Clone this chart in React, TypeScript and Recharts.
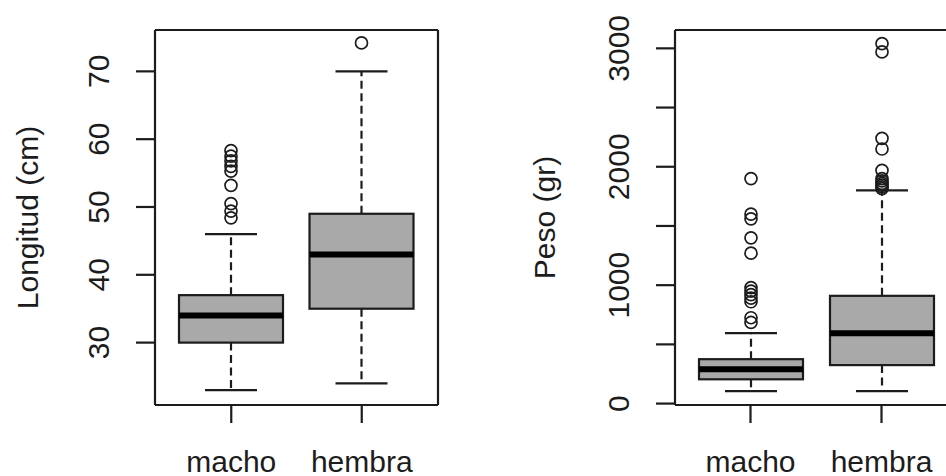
import React from 'react';
import { ComposedChart, Bar, XAxis, YAxis } from 'recharts';

const categories = ['macho', 'hembra'];

// Longitud (cm)
const longitudMin = [23, 24];
const longitudQ1 = [30, 35];
const longitudMedian = [34, 43];
const longitudQ3 = [37, 49];
const longitudMax = [46, 70];
const longitudOutliers = [
  [58.3, 57.5, 56.8, 56, 55.3, 53.2, 50.5, 49.4, 48.4],
  [74.2],
];
const longitudTicks = [30, 40, 50, 60, 70];

// Peso (gr)
const pesoMin = [105, 105];
const pesoQ1 = [205, 325];
const pesoMedian = [290, 595];
const pesoQ3 = [375, 910];
const pesoMax = [595, 1800];
const pesoOutliers = [
  [1900, 1600, 1560, 1400, 1270, 980, 950, 920, 890, 860, 725, 685],
  [3040, 2970, 2240, 2150, 1970, 1900, 1880, 1860, 1845, 1830, 1815],
];
const pesoTicks = [0, 500, 1000, 1500, 2000, 2500, 3000];
const pesoLabelled = [0, 1000, 2000, 3000];

const FONT = '"Liberation Sans", Arial, Helvetica, sans-serif';
const INK = '#1c1c1c';
const BOX_FILL = '#a9a9a9';

const buildRows = (
  mins: number[], q1s: number[], meds: number[], q3s: number[], maxs: number[], outs: number[][]
) =>
  categories.map((cat, i) => ({
    cat,
    range: [mins[i], maxs[i]],
    q1: q1s[i],
    median: meds[i],
    q3: q3s[i],
    outliers: outs[i],
  }));

const longitudRows = buildRows(longitudMin, longitudQ1, longitudMedian, longitudQ3, longitudMax, longitudOutliers);
const pesoRows = buildRows(pesoMin, pesoQ1, pesoMedian, pesoQ3, pesoMax, pesoOutliers);

// draws whiskers, box, median and outliers from the bar the library placed
const BoxShape = (props: any) => {
  const { x, y, width, height, payload } = props;
  if (!payload || width == null) return null;
  const [lo, hi] = payload.range;
  const top = Math.min(y, y + height);
  const h = Math.abs(height);
  const py = (v: number) => top + (h * (hi - v)) / (hi - lo);
  const cx = x + width / 2;
  const cap = width / 4;
  return (
    <g>
      <line x1={cx} x2={cx} y1={py(payload.q3)} y2={py(hi)} stroke={INK} strokeWidth={2.2} strokeDasharray="8 4.5" />
      <line x1={cx} x2={cx} y1={py(payload.q1)} y2={py(lo)} stroke={INK} strokeWidth={2.2} strokeDasharray="8 4.5" />
      <line x1={cx - cap} x2={cx + cap} y1={py(hi)} y2={py(hi)} stroke={INK} strokeWidth={2.2} />
      <line x1={cx - cap} x2={cx + cap} y1={py(lo)} y2={py(lo)} stroke={INK} strokeWidth={2.2} />
      <rect
        x={x}
        y={py(payload.q3)}
        width={width}
        height={py(payload.q1) - py(payload.q3)}
        fill={BOX_FILL}
        stroke={INK}
        strokeWidth={2.2}
      />
      <line x1={x} x2={x + width} y1={py(payload.median)} y2={py(payload.median)} stroke="#000" strokeWidth={6} />
      {payload.outliers.map((v: number, i: number) => (
        <circle key={i} cx={cx} cy={py(v)} r={6} fill="none" stroke={INK} strokeWidth={1.7} />
      ))}
    </g>
  );
};

const YTick = (props: any) => {
  const { y, payload, labelX, labelled } = props;
  if (labelled && !labelled.includes(payload.value)) return <g />;
  return (
    <text
      x={labelX}
      y={y}
      transform={`rotate(-90, ${labelX}, ${y})`}
      textAnchor="middle"
      dominantBaseline="central"
      fontFamily={FONT}
      fontSize={30}
      fill={INK}
    >
      {payload.value}
    </text>
  );
};

const XTick = (props: any) => {
  const { x, payload } = props;
  return (
    <text x={x} y={472} textAnchor="middle" fontFamily={FONT} fontSize={30} fill={INK}>
      {payload.value}
    </text>
  );
};

const YTitle = (props: any) => {
  const { viewBox, text, titleX } = props;
  const cy = viewBox && viewBox.height ? viewBox.y + viewBox.height / 2 : 217.5;
  return (
    <text
      x={titleX}
      y={cy}
      transform={`rotate(-90, ${titleX}, ${cy})`}
      textAnchor="middle"
      dominantBaseline="central"
      fontFamily={FONT}
      fontSize={30}
      fill={INK}
    >
      {text}
    </text>
  );
};

type PanelProps = {
  rows: any[];
  width: number;
  yAxisWidth: number;
  rightMargin: number;
  domain: [number, number];
  ticks: number[];
  labelled?: number[];
  title: string;
  titleX: number;
  padLeft: number;
  padRight: number;
};

const frameLine = { stroke: INK, strokeWidth: 2.2 };

const BoxPanel = ({ rows, width, yAxisWidth, rightMargin, domain, ticks, labelled, title, titleX, padLeft, padRight }: PanelProps) => (
  <ComposedChart width={width} height={476} data={rows} margin={{ top: 29, right: rightMargin, left: 0, bottom: 0 }}>
    <XAxis
      dataKey="cat"
      height={71}
      padding={{ left: padLeft, right: padRight }}
      tickSize={18}
      tickLine={frameLine}
      axisLine={frameLine}
      tick={<XTick />}
      interval={0}
    />
    <XAxis
      xAxisId="top"
      dataKey="cat"
      orientation="top"
      height={1}
      padding={{ left: padLeft, right: padRight }}
      tick={false}
      tickLine={false}
      axisLine={frameLine}
    />
    <YAxis
      width={yAxisWidth}
      type="number"
      domain={domain}
      ticks={ticks}
      interval={0}
      allowDataOverflow
      tickSize={19}
      tickLine={frameLine}
      axisLine={frameLine}
      tick={<YTick labelX={yAxisWidth - 56} labelled={labelled} />}
      label={<YTitle text={title} titleX={titleX} />}
    />
    <YAxis
      yAxisId="right"
      orientation="right"
      width={1}
      type="number"
      domain={domain}
      allowDataOverflow
      tick={false}
      tickLine={false}
      axisLine={frameLine}
    />
    <Bar dataKey="range" barSize={104} shape={<BoxShape />} isAnimationActive={false} />
  </ComposedChart>
);

export default function App() {
  return (
    <div style={{ position: 'absolute', left: 0, top: 0, width: 946, height: 476, overflow: 'hidden', background: '#fff' }}>
      <div style={{ position: 'absolute', left: 0, top: 0 }}>
        <BoxPanel
          rows={longitudRows}
          width={473}
          yAxisWidth={155}
          rightMargin={34}
          domain={[20.8, 76.1]}
          ticks={longitudTicks}
          title="Longitud (cm)"
          titleX={27}
          padLeft={11}
          padRight={11}
        />
      </div>
      <div style={{ position: 'absolute', left: 473, top: 0 }}>
        <BoxPanel
          rows={pesoRows}
          width={500}
          yAxisWidth={202}
          rightMargin={13}
          domain={[-12, 3155]}
          ticks={pesoTicks}
          labelled={pesoLabelled}
          title="Peso (gr)"
          titleX={71}
          padLeft={10}
          padRight={12}
        />
      </div>
    </div>
  );
}
